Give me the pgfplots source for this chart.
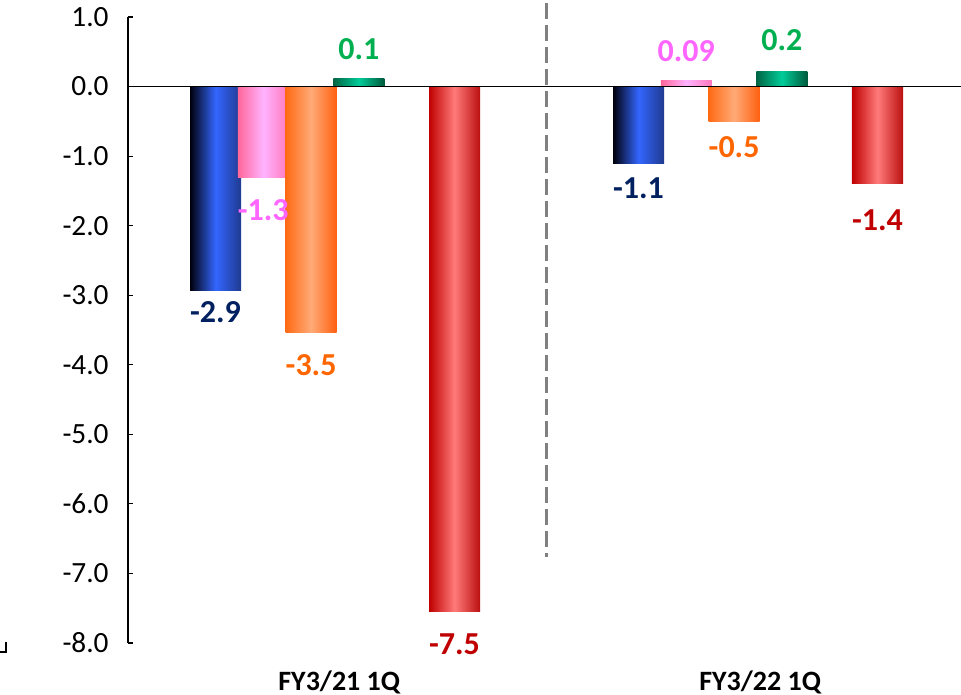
\documentclass[border=0pt]{standalone}
\usepackage{fontspec}
\setmainfont{Carlito}
\usepackage{pgfplots}
\pgfplotsset{compat=1.18}
\definecolor{lblnavy}{HTML}{002060}
\definecolor{lblpink}{HTML}{FF66FF}
\definecolor{lblorange}{HTML}{FF6600}
\definecolor{lblgreen}{HTML}{00B050}
\definecolor{lblred}{HTML}{C00000}
\definecolor{bL}{HTML}{00000A}\definecolor{bM}{HTML}{3366FF}\definecolor{bR}{HTML}{1F3A8F}
\definecolor{pL}{HTML}{FF6699}\definecolor{pM}{HTML}{FFB3FF}\definecolor{pR}{HTML}{FF77BB}
\definecolor{oL}{HTML}{FF6A14}\definecolor{oM}{HTML}{FFAA77}\definecolor{oR}{HTML}{FF6010}
\definecolor{tL}{HTML}{006644}\definecolor{tM}{HTML}{00CC99}\definecolor{tR}{HTML}{005A3C}
\definecolor{rL}{HTML}{C00000}\definecolor{rM}{HTML}{FF7A7A}\definecolor{rR}{HTML}{BB1010}
\tikzset{lbl/.style={font=\bfseries\fontsize{24}{28}\selectfont, text=#1, inner sep=0pt}}
\pgfplotsset{
  mybar/.style={ybar, bar width=0.1206, bar shift=0pt, draw=none,
    nodes near coords, point meta=explicit symbolic, forget plot},
  neg/.style 2 args={every node near coord/.append style={lbl=#1, anchor=north, yshift=#2}},
  pos/.style 2 args={every node near coord/.append style={lbl=#1, anchor=south, yshift=#2}},
  blu/.style={left color=bL, right color=bR, middle color=bM},
  pnk/.style={left color=pL, right color=pR, middle color=pM},
  org/.style={left color=oL, right color=oR, middle color=oM},
  tea/.style={left color=tL, right color=tR, middle color=tM},
  rdd/.style={left color=rL, right color=rR, middle color=rM},
}
\begin{document}
\begin{tikzpicture}
\useasboundingbox (-96pt,-39pt) rectangle (624.75pt,482.25pt);
\draw[black, line width=0.8pt] (-91.5pt,0.75pt) -- (-91.5pt,-6.75pt) -- (-96pt,-6.75pt);
\begin{axis}[
  at={(0,0)}, anchor=south west,
  scale only axis, width=624.75pt, height=469.5pt,
  xmin=-0.4894, xmax=1.4799, ymin=-8, ymax=1,
  clip=false,
  axis lines=left,
  axis line style={-, line width=0.8pt},
  x axis line style={draw=none},
  xtick={0.01,1.005}, xticklabels={FY3/21 1Q, FY3/22 1Q},
  x tick style={draw=none},
  xticklabel style={font=\bfseries\fontsize{21}{24}\selectfont, yshift=-17pt},
  ytick={-8,-7,...,1},
  tick align=inside,
  major tick length=3.75pt,
  y tick style={black, line width=0.8pt},
  yticklabel style={font=\fontsize{22}{26}\selectfont, xshift=-11pt},
  /pgf/number format/.cd, fixed, fixed zerofill, precision=1, assume math mode=true,
]
% FY3/21 1Q
\addplot[mybar, blu, neg={lblnavy}{-8.5pt}]   coordinates {(-0.2825,-2.93) [-2.9]};
\addplot[mybar, pnk, neg={lblpink}{-16pt}]    coordinates {(-0.1695,-1.31) [-1.3]};
\addplot[mybar, org, neg={lblorange}{-16.5pt}] coordinates {(-0.0565,-3.53) [-3.5]};
\addplot[mybar, tea, pos={lblgreen}{14pt}]    coordinates {(0.0565,0.11) [0.1]};
\addplot[mybar, rdd, neg={lblred}{-16.5pt}]   coordinates {(0.2825,-7.55) [-7.5]};
% FY3/22 1Q
\addplot[mybar, blu, neg={lblnavy}{-10.5pt}]  coordinates {(0.7175,-1.1) [-1.1]};
\addplot[mybar, pnk, pos={lblpink}{13.5pt}]   coordinates {(0.8305,0.09) [0.09]};
\addplot[mybar, org, neg={lblorange}{-11pt}]  coordinates {(0.9435,-0.5) [-0.5]};
\addplot[mybar, tea, pos={lblgreen}{15pt}]    coordinates {(1.0565,0.22) [0.2]};
\addplot[mybar, rdd, neg={lblred}{-19pt}]     coordinates {(1.2825,-1.4) [-1.4]};
% zero line
\addplot[black, line width=1.2pt, no marks, forget plot] coordinates {(-0.4894,0) (1.4799,0)};
% divider
\draw[color={rgb,255:red,128;green,128;blue,128}, line width=2.2pt, dash pattern=on 12pt off 4.5pt] (axis cs:0.5,1.2) -- (axis cs:0.5,-6.76);
\end{axis}
\end{tikzpicture}
\end{document}
